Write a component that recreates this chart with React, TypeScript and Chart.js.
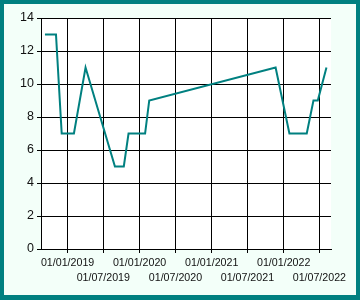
import React, { useEffect, useRef } from 'react';
import { Chart, registerables } from 'chart.js';

Chart.register(...registerables);

const pointDates = [
  '2018-09-08', '2018-11-03', '2018-12-02', '2019-02-02', '2019-04-02',
  '2019-08-29', '2019-10-13', '2019-11-06', '2020-01-29', '2020-02-19',
  '2021-11-21', '2022-01-30', '2022-04-28', '2022-06-01', '2022-06-23', '2022-08-06',
];
const pointValues = [13, 13, 7, 7, 11, 5, 5, 7, 7, 9, 11, 7, 7, 9, 9, 11];
const tickLabels = [
  '01/01/2019', '01/07/2019', '01/01/2020', '01/07/2020',
  '01/01/2021', '01/07/2021', '01/01/2022', '01/07/2022',
];
const axisMinDate = '2018-08-19';
const axisMaxDate = '2022-08-29';
const yMin = 0;
const yMax = 14;
const yStep = 2;

const isoToDay = (s: string) => {
  const [y, m, d] = s.split('-').map(Number);
  return Date.UTC(y, m - 1, d) / 86400000;
};
const dmyToDay = (s: string) => {
  const [d, m, y] = s.split('/').map(Number);
  return Date.UTC(y, m - 1, d) / 86400000;
};

const plotBg = {
  id: 'plotBg',
  beforeDraw(chart: any) {
    const { ctx, chartArea } = chart;
    ctx.save();
    ctx.fillStyle = '#ffffff';
    ctx.fillRect(chartArea.left, chartArea.top, chartArea.right - chartArea.left, chartArea.bottom - chartArea.top);
    ctx.restore();
  },
};

export default function App() {
  const ref = useRef<HTMLCanvasElement | null>(null);
  useEffect(() => {
    document.body.style.margin = '0';
    const tickDays = tickLabels.map(dmyToDay);
    const chart = new Chart(ref.current as HTMLCanvasElement, {
      type: 'line',
      data: {
        datasets: [
          {
            data: pointDates.map((d, i) => ({ x: isoToDay(d), y: pointValues[i] })),
            borderColor: '#008080',
            borderWidth: 2,
            pointRadius: 0,
            tension: 0,
            fill: false,
          },
        ],
      },
      options: {
        animation: false,
        responsive: true,
        maintainAspectRatio: false,
        layout: { padding: { top: 14, right: 25, left: 0, bottom: 0 } },
        plugins: { legend: { display: false }, tooltip: { enabled: false } },
        scales: {
          x: {
            type: 'linear',
            min: isoToDay(axisMinDate),
            max: isoToDay(axisMaxDate),
            afterBuildTicks: (scale: any) => {
              scale.ticks = tickDays.map((v) => ({ value: v }));
            },
            afterFit: (scale: any) => {
              scale.height = 46;
            },
            ticks: {
              autoSkip: false,
              maxRotation: 0,
              minRotation: 0,
              padding: 3,
              color: '#111',
              font: { family: '"Liberation Sans", Arial, sans-serif', size: 10.67, lineHeight: 1.4 },
              callback: (_v: any, i: number) => (i % 2 === 0 ? tickLabels[i] : ['', tickLabels[i]]),
            },
            grid: { color: '#000', lineWidth: 1, tickLength: 4, drawTicks: true },
            border: { color: '#000', width: 1 },
          },
          y: {
            min: yMin,
            max: yMax,
            afterFit: (scale: any) => {
              scale.width = 37;
            },
            ticks: {
              stepSize: yStep,
              padding: 3,
              color: '#111',
              font: { family: '"Liberation Sans", Arial, sans-serif', size: 12.5 },
            },
            grid: { color: '#000', lineWidth: 1, tickLength: 4 },
            border: { color: '#000', width: 1 },
          },
        },
      },
      plugins: [plotBg],
    });
    return () => chart.destroy();
  }, []);

  return (
    <div
      style={{
        width: 360,
        height: 300,
        boxSizing: 'border-box',
        borderStyle: 'solid',
        borderColor: '#008080',
        borderWidth: '4px 4px 5px 4px',
        background: '#F3FFF9',
      }}
    >
      <div style={{ position: 'relative', width: 352, height: 291 }}>
        <canvas ref={ref} />
      </div>
    </div>
  );
}
